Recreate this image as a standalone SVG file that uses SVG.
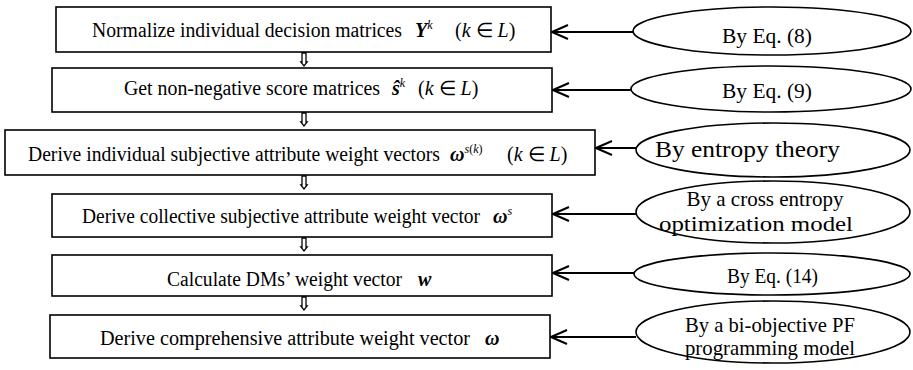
<svg xmlns="http://www.w3.org/2000/svg" width="913" height="370" viewBox="0 0 913 370">
<style>
.box{fill:#fff;stroke:#000;stroke-width:1.6}
.ell{fill:#fff;stroke:#000;stroke-width:1.6}
.t{font-family:"Liberation Serif","Times New Roman",serif;font-size:20px;fill:#000}
.e{font-size:21px}
.c{text-anchor:middle}
.bi{font-weight:bold;font-style:italic}
.i{font-style:italic}
.sup{font-size:12px}
.conn{stroke:#000;stroke-width:2;fill:none;marker-end:url(#chev)}
.dn{fill:#fff;stroke:#000;stroke-width:1.3}
</style>
<defs>
<marker id="chev" markerUnits="userSpaceOnUse" viewBox="0 0 18 16" refX="17" refY="8" markerWidth="18" markerHeight="16" orient="auto">
<path d="M1,1 L17,8 L1,15" fill="none" stroke="#000" stroke-width="2"/>
</marker>
<path id="dnarrow" d="M-2,0 L2,0 L2,9 L3.2,9 L0,13 L-3.2,9 L-2,9 Z"/>
</defs>

<g id="n1">
<rect class="box" x="56" y="7" width="495" height="45"/>
<text class="t" x="92" y="37" textLength="310" lengthAdjust="spacingAndGlyphs">Normalize individual decision matrices</text>
<text class="t" x="415" y="37"><tspan class="bi">Y</tspan><tspan class="i sup" dy="-8">k</tspan></text>
<text class="t" x="455" y="37">(<tspan class="i">k</tspan> ∈ <tspan class="i">L</tspan>)</text>
</g>

<g id="n2">
<rect class="box" x="52" y="68" width="500" height="44"/>
<text class="t" x="124" y="95" textLength="256" lengthAdjust="spacingAndGlyphs">Get non-negative score matrices</text>
<text class="t" x="392" y="95"><tspan class="bi">ŝ</tspan><tspan class="i sup" dy="-8">k</tspan></text>
<text class="t" x="418" y="95">(<tspan class="i">k</tspan> ∈ <tspan class="i">L</tspan>)</text>
</g>

<g id="n3">
<rect class="box" x="5" y="130" width="590" height="45"/>
<text class="t" x="28" y="161" textLength="412" lengthAdjust="spacingAndGlyphs">Derive individual subjective attribute weight vectors</text>
<text class="t" x="450" y="161"><tspan class="bi">ω</tspan><tspan class="sup" dy="-8"><tspan class="i">s</tspan>(<tspan class="i">k</tspan>)</tspan></text>
<text class="t" x="507" y="161">(<tspan class="i">k</tspan> ∈ <tspan class="i">L</tspan>)</text>
</g>

<g id="n4">
<rect class="box" x="52" y="194" width="500" height="43"/>
<text class="t" x="82" y="223" textLength="398" lengthAdjust="spacingAndGlyphs">Derive collective subjective attribute weight vector</text>
<text class="t" x="493" y="223"><tspan class="bi">ω</tspan><tspan class="i sup" dy="-8">s</tspan></text>
</g>

<g id="n5">
<rect class="box" x="52" y="255" width="500" height="41"/>
<text class="t" x="167" y="286" textLength="235" lengthAdjust="spacingAndGlyphs">Calculate DMs’ weight vector</text>
<text class="t bi" x="418" y="286">w</text>
</g>

<g id="n6">
<rect class="box" x="50" y="315" width="500" height="43"/>
<text class="t" x="100" y="345" textLength="370" lengthAdjust="spacingAndGlyphs">Derive comprehensive attribute weight vector</text>
<text class="t bi" x="485" y="345">ω</text>
</g>

<g id="e1">
<ellipse class="ell" cx="772" cy="31" rx="139" ry="24"/>
<text class="t e" x="722" y="43" textLength="90" lengthAdjust="spacingAndGlyphs">By Eq. (8)</text>
</g>
<g id="e2">
<ellipse class="ell" cx="771" cy="89" rx="140" ry="23"/>
<text class="t e" x="722" y="98" textLength="90" lengthAdjust="spacingAndGlyphs">By Eq. (9)</text>
</g>
<g id="e3">
<ellipse class="ell" cx="773" cy="150" rx="137" ry="27"/>
<text class="t" style="font-size:23px" x="655" y="157" textLength="185" lengthAdjust="spacingAndGlyphs">By entropy theory</text>
</g>
<g id="e4">
<ellipse class="ell" cx="773" cy="212" rx="137" ry="31"/>
<text class="t e c" x="765" y="206">By a cross entropy</text>
<text class="t e" x="659" y="231" textLength="194" lengthAdjust="spacingAndGlyphs">optimization model</text>
</g>
<g id="e5">
<ellipse class="ell" cx="772" cy="274" rx="138" ry="21"/>
<text class="t e" x="727" y="283" textLength="91" lengthAdjust="spacingAndGlyphs">By Eq. (14)</text>
</g>
<g id="e6">
<ellipse class="ell" cx="773" cy="332" rx="137" ry="31"/>
<text class="t e" x="685" y="332" textLength="170" lengthAdjust="spacingAndGlyphs">By a bi-objective PF</text>
<text class="t e" x="685" y="355" textLength="170" lengthAdjust="spacingAndGlyphs">programming model</text>
</g>

<g id="connectors">
<line class="conn" x1="633" y1="32" x2="552" y2="32"/>
<line class="conn" x1="631" y1="90" x2="553" y2="90"/>
<line class="conn" x1="636" y1="148" x2="596" y2="148"/>
<line class="conn" x1="636" y1="214" x2="553" y2="214"/>
<line class="conn" x1="634" y1="273" x2="553" y2="273"/>
<line class="conn" x1="636" y1="337" x2="551" y2="337"/>
<use href="#dnarrow" class="dn" x="304" y="53"/>
<use href="#dnarrow" class="dn" x="304" y="113"/>
<use href="#dnarrow" class="dn" x="304" y="176"/>
<use href="#dnarrow" class="dn" x="304" y="238"/>
<use href="#dnarrow" class="dn" x="304" y="297"/>
</g>
</svg>
